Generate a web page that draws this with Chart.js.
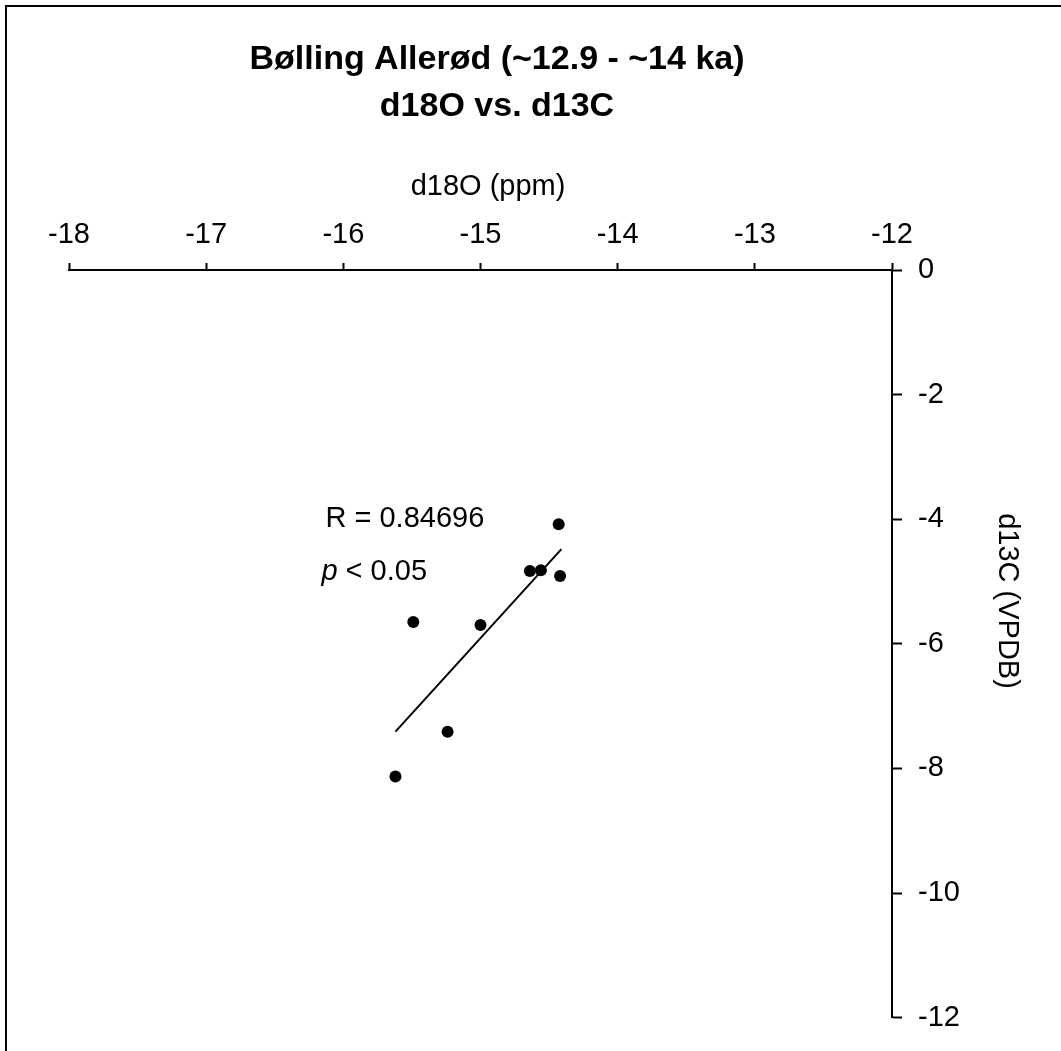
<!DOCTYPE html>
<html>
<head>
<meta charset="utf-8">
<title>Bølling Allerød d18O vs. d13C</title>
<script src="https://cdn.jsdelivr.net/npm/chart.js@4.4.0/dist/chart.umd.min.js"></script>
<style>
  html, body { margin: 0; padding: 0; background: #fff; }
  #wrap { position: relative; width: 1061px; height: 1051px; }
</style>
</head>
<body>
<div id="wrap"><canvas id="myChart" width="1061" height="1051"></canvas></div>
<script>
// values
const d18O = [-14.43, -14.64, -14.56, -14.42, -15.49, -15.00, -15.24, -15.62];
const d13C = [-4.08, -4.83, -4.82, -4.91, -5.65, -5.70, -7.41, -8.13];
// regression line, start and end
const fitX = [-15.62, -14.41];
const fitY = [-7.41, -4.48];
const xTicks = [-18, -17, -16, -15, -14, -13, -12];
const yTicks = [0, -2, -4, -6, -8, -10, -12];
const titleLines = ['Bølling Allerød (~12.9 - ~14 ka)', 'd18O vs. d13C'];
const xTitle = 'd18O (ppm)';
const yTitle = 'd13C (VPDB)';
const rText = 'R = 0.84696';
const pText = ['p', ' < 0.05'];

const FONT = "'Liberation Sans', Arial, sans-serif";

const textPlugin = {
  id: 'texts',
  beforeDraw(chart) {
    const ctx = chart.ctx;
    ctx.save();
    ctx.fillStyle = '#fff';
    ctx.fillRect(0, 0, chart.width, chart.height);
    // frame (only left and top edges show)
    ctx.strokeStyle = '#000';
    ctx.lineWidth = 2;
    ctx.beginPath();
    ctx.moveTo(6, chart.height);
    ctx.lineTo(6, 6);
    ctx.lineTo(chart.width, 6);
    ctx.stroke();
    ctx.restore();
  },
  afterDraw(chart) {
    const ctx = chart.ctx;
    const sx = chart.scales.x, sy = chart.scales.y;
    ctx.save();
    ctx.fillStyle = '#000';
    ctx.textAlign = 'center';
    ctx.textBaseline = 'alphabetic';
    ctx.font = 'bold 34px ' + FONT;
    ctx.fillText(titleLines[0], 497, 69);
    ctx.fillText(titleLines[1], 497, 116);

    ctx.font = '29px ' + FONT;
    ctx.fillText(xTitle, 488, 195);

    ctx.save();
    ctx.translate(1007, 601);
    ctx.rotate(Math.PI / 2);
    ctx.textBaseline = 'middle';
    ctx.fillText(yTitle, 0, 0);
    ctx.restore();

    // stats, anchored in data units
    ctx.textAlign = 'left';
    ctx.font = '29px ' + FONT;
    ctx.fillText(rText, sx.getPixelForValue(-16.13), sy.getPixelForValue(-4.13));
    let px = sx.getPixelForValue(-16.16), py = sy.getPixelForValue(-4.98);
    ctx.font = 'italic 29px ' + FONT;
    ctx.fillText(pText[0], px, py);
    px += ctx.measureText(pText[0]).width;
    ctx.font = '29px ' + FONT;
    ctx.fillText(pText[1], px, py);
    ctx.restore();
  }
};

const ctx = document.getElementById('myChart');
new Chart(ctx, {
  type: 'scatter',
  data: {
    datasets: [{
      label: 'samples',
      data: d18O.map((x, i) => ({ x: x, y: d13C[i] })),
      backgroundColor: '#000',
      borderColor: '#000',
      pointRadius: 6,
      pointHoverRadius: 6,
      borderWidth: 0
    }, {
      label: 'fit',
      data: fitX.map((x, i) => ({ x: x, y: fitY[i] })),
      showLine: true,
      borderColor: '#000',
      borderWidth: 2,
      pointRadius: 0,
      fill: false
    }]
  },
  options: {
    responsive: false,
    animation: false,
    devicePixelRatio: 1,
    layout: { padding: { left: 69, right: 0, top: 0, bottom: 31 } },
    plugins: {
      legend: { display: false },
      title: { display: false },
      tooltip: { enabled: false }
    },
    scales: {
      x: {
        type: 'linear',
        position: 'top',
        min: -18,
        max: -12,
        afterBuildTicks: s => { s.ticks = xTicks.map(v => ({ value: v })); },
        afterFit: s => { s.height = 270; },
        grid: { drawOnChartArea: false, tickLength: 7, tickWidth: 2, color: '#000' },
        border: { display: true, color: '#000', width: 2 },
        ticks: {
          color: '#000',
          font: { family: FONT, size: 29 },
          padding: 11,
          maxRotation: 0,
          autoSkip: false,
          callback: v => String(v)
        }
      },
      y: {
        type: 'linear',
        position: 'right',
        min: -12,
        max: 0,
        afterBuildTicks: s => { s.ticks = yTicks.map(v => ({ value: v })); },
        afterFit: s => { s.width = 169; },
        grid: { drawOnChartArea: false, tickLength: 10, tickWidth: 2, color: '#000' },
        border: { display: true, color: '#000', width: 2 },
        ticks: {
          color: '#000',
          font: { family: FONT, size: 29 },
          padding: 16,
          autoSkip: false,
          callback: v => String(v)
        }
      }
    }
  },
  plugins: [textPlugin]
});
</script>
</body>
</html>
